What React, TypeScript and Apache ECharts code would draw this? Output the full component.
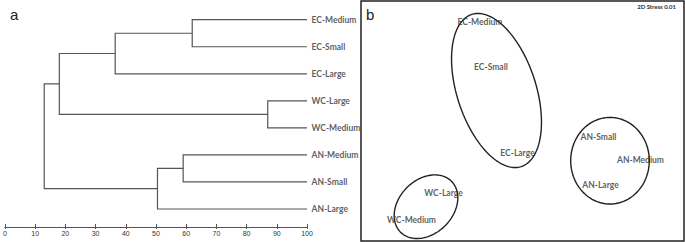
import React, { useEffect, useRef } from "react";
import * as echarts from "echarts";

// Dendrogram (panel a)
const leaves = ["EC-Medium", "EC-Small", "EC-Large", "WC-Large", "WC-Medium", "AN-Medium", "AN-Small", "AN-Large"];
// merges: node ids 0..7 are leaves, merge k creates node 8+k
const mergeLeft = [0, 8, 3, 9, 5, 12, 11];
const mergeRight = [1, 2, 4, 10, 6, 7, 13];
const mergeHeights = [62, 36.5, 87, 18, 59, 50.5, 13];

// NMDS (panel b)
const nmdsLabels = ["EC-Medium", "EC-Small", "EC-Large", "AN-Small", "AN-Medium", "AN-Large", "WC-Large", "WC-Medium"];
const nmdsX = [-0.425, -0.315, -0.05, 0.76, 1.18, 0.78, -0.79, -1.11];
const nmdsY = [0.99, 0.54, -0.32, -0.16, -0.39, -0.64, -0.72, -0.99];
const groupNames = ["EC", "AN", "WC"];
const ellipseCX = [-0.26, 0.875, -0.965];
const ellipseCY = [0.305, -0.397, -0.857];
const ellipseRX = [0.395, 0.393, 0.36];
const ellipseRY = [0.8, 0.433, 0.27];
const ellipseAngle = [18, 0, 45];
const stressText = "2D Stress 0.01";

const LABEL_FONT = "Lato";

export default function App() {
  const ref = useRef<HTMLDivElement>(null);
  useEffect(() => {
    if (!ref.current) return;
    const chart = echarts.init(ref.current, undefined, { renderer: "svg" });

    // build dendrogram node positions
    const nodeX: number[] = leaves.map(() => 100);
    const nodeY: number[] = leaves.map((_, i) => i);
    const dendroData: number[][] = [];
    mergeHeights.forEach((h, k) => {
      const a = mergeLeft[k];
      const b = mergeRight[k];
      dendroData.push([h, nodeY[a], nodeY[b], nodeX[a], nodeX[b]]);
      nodeX.push(h);
      nodeY.push((nodeY[a] + nodeY[b]) / 2);
    });

    const ellipseData = groupNames.map((g, i) => [ellipseCX[i], ellipseCY[i], ellipseRX[i], ellipseRY[i], ellipseAngle[i], g]);

    chart.setOption({
      animation: false,
      textStyle: { fontFamily: LABEL_FONT },
      grid: [
        { left: 3, width: 304, top: 3.5, height: 223.5 },
        { left: 361, top: 1, width: 323, height: 240, show: true, borderColor: "#222", borderWidth: 1.5, backgroundColor: "transparent" },
      ],
      xAxis: [
        {
          gridIndex: 0, type: "value", min: 0, max: 100, interval: 10, position: "bottom",
          axisLine: { show: true, onZero: false, lineStyle: { color: "#555", width: 1 } },
          axisTick: { show: true, inside: false, length: 2, lineStyle: { color: "#555" } },
          axisLabel: { fontSize: 7, color: "#333", margin: 3, fontFamily: "Liberation Sans" },
          splitLine: { show: false },
        },
        {
          gridIndex: 0, type: "value", min: 0, max: 100, interval: 10, position: "top", offset: -223.5,
          axisLine: { show: false, onZero: false },
          axisTick: { show: true, inside: false, length: 3, lineStyle: { color: "#555" } },
          axisLabel: { show: false },
          splitLine: { show: false },
        },
        { gridIndex: 1, type: "value", min: -1.615, max: 1.615, show: false, axisLine: { onZero: false } },
      ],
      yAxis: [
        { gridIndex: 0, type: "value", min: -0.6, max: 7.6667, inverse: true, show: false, axisLine: { onZero: false } },
        { gridIndex: 1, type: "value", min: -1.2, max: 1.2, show: false, axisLine: { onZero: false } },
      ],
      series: [
        {
          type: "custom",
          xAxisIndex: 0, yAxisIndex: 0,
          data: dendroData,
          encode: { x: [0, 3, 4], y: [1, 2] },
          renderItem: (_p: any, api: any) => {
            const h = api.value(0), yA = api.value(1), yB = api.value(2), xA = api.value(3), xB = api.value(4);
            const pts = [api.coord([xA, yA]), api.coord([h, yA]), api.coord([h, yB]), api.coord([xB, yB])];
            return { type: "polyline", shape: { points: pts }, style: { fill: "none", stroke: "#555", lineWidth: 1.2 } };
          },
        },
        {
          type: "scatter",
          xAxisIndex: 0, yAxisIndex: 0,
          symbolSize: 1,
          itemStyle: { color: "rgba(0,0,0,0)" },
          data: leaves.map((n, i) => [100, i, n]),
          label: {
            show: true, position: "right", distance: 4,
            formatter: (p: any) => p.data[2],
            fontSize: 8.5, fontWeight: "bold", color: "#333", fontFamily: LABEL_FONT,
          },
        },
        {
          type: "custom",
          xAxisIndex: 2, yAxisIndex: 1,
          data: ellipseData,
          renderItem: (_p: any, api: any) => {
            const c = api.coord([api.value(0), api.value(1)]);
            const s = api.size([api.value(2), api.value(3)]);
            const a = (api.value(4) * Math.PI) / 180;
            const pts: number[][] = [];
            const N = 120;
            for (let k = 0; k < N; k++) {
              const t = (k / N) * Math.PI * 2;
              const x = s[0] * Math.cos(t);
              const y = s[1] * Math.sin(t);
              pts.push([c[0] + x * Math.cos(a) + y * Math.sin(a), c[1] - x * Math.sin(a) + y * Math.cos(a)]);
            }
            return { type: "polygon", shape: { points: pts }, style: { fill: "none", stroke: "#222", lineWidth: 1.4 } };
          },
        },
        {
          type: "scatter",
          xAxisIndex: 2, yAxisIndex: 1,
          symbolSize: 1,
          itemStyle: { color: "rgba(0,0,0,0)" },
          data: nmdsLabels.map((n, i) => [nmdsX[i], nmdsY[i], n]),
          label: {
            show: true, position: "inside",
            formatter: (p: any) => p.data[2],
            fontSize: 8.5, fontWeight: "bold", color: "#333", fontFamily: LABEL_FONT,
          },
        },
      ],
      graphic: [
        { type: "text", left: 10, top: 7, style: { text: "a", fontSize: 15, fill: "#222", fontFamily: "Liberation Sans" } },
        { type: "text", left: 366, top: 7, style: { text: "b", fontSize: 15, fill: "#222", fontFamily: "Liberation Sans" } },
        { type: "text", right: 9, top: 3, style: { text: stressText, fontSize: 6, fontWeight: "bold", fill: "#333", fontFamily: LABEL_FONT } },
      ],
    });
    return () => chart.dispose();
  }, []);
  return <div ref={ref} style={{ position: "absolute", left: 0, top: 0, width: 685, height: 242 }} />;
}
